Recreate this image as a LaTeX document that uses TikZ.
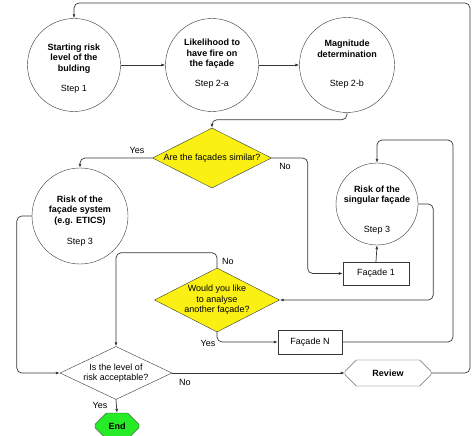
\documentclass[tikz,border=0pt]{standalone}
\usepackage{fontspec}
\setmainfont{Liberation Sans}
\usetikzlibrary{shapes,arrows,arrows.meta}
\definecolor{linegray}{RGB}{55,55,55}
\definecolor{qyellow}{RGB}{250,240,20}
\definecolor{endgreen}{RGB}{40,235,40}
\tikzset{%
	stepc/.style    = {draw=linegray, circle, inner sep=0pt}, % Step circle
	head/.style     = {align=center, font=\fontsize{9}{10.5}\selectfont\bfseries},
	steplbl/.style  = {font=\fontsize{9}{10.5}\selectfont},
	quest/.style    = {draw=linegray, diamond, aspect=2, inner sep=0pt,
		fill=qyellow, align=center, font=\fontsize{9}{10.5}\selectfont},
	block/.style    = {draw=linegray, rectangle, inner sep=0pt,
		font=\fontsize{9}{10.5}\selectfont},
	term/.style     = {draw=linegray, chamfered rectangle, chamfered rectangle xsep=8pt,
		chamfered rectangle ysep=8pt, inner sep=0pt,
		font=\fontsize{9}{10.5}\selectfont\bfseries},
	ans/.style      = {font=\fontsize{9}{10.5}\selectfont}, % Yes / No
	conn/.style     = {draw=linegray, line width=0.7pt, rounded corners=5pt,
		-{Latex[length=4pt,width=3pt]}}
}

\begin{document}
\begin{tikzpicture}[x=1pt,y=-1pt]
	\useasboundingbox (0,0) rectangle (474,436);

	% steps
	\node[stepc, minimum size=93pt] (s1) at (74,65) {};
	\node[head] (s1t) at (74,58.5) {Starting risk\\level of the\\bulding};
	\node[steplbl] (s1s) at (74,89) {Step 1};

	\node[stepc, minimum size=93pt] (s2a) at (212,65) {};
	\node[head] (s2at) at (212,54) {Likelihood to\\have fire on\\the façade};
	\node[steplbl] (s2as) at (212,84) {Step 2-a};

	\node[stepc, minimum size=95pt] (s2b) at (347,65) {};
	\node[head] (s2bt) at (347,49) {Magnitude\\determination};
	\node[steplbl] (s2bs) at (347,84) {Step 2-b};

	\node[stepc, minimum size=96pt] (sys) at (80,216) {};
	\node[head] (syst) at (80,210.5) {Risk of the\\façade system\\(e.g. ETICS)};
	\node[steplbl] (syss) at (80,242) {Step 3};

	\node[stepc, minimum size=82pt] (sng) at (377,204) {};
	\node[head] (sngt) at (377,195) {Risk of the\\singular façade};
	\node[steplbl] (sngs) at (377,230) {Step 3};

	% questions
	\node[quest, minimum width=119pt, minimum height=60pt] (q1) at (212,158) {Are the façades similar?};
	\node[quest, minimum width=125pt, minimum height=64pt] (q2) at (217,300) {Would you like\\to analyse\\another façade?};
	\node[quest, fill=white, minimum width=112pt, minimum height=53pt] (q3) at (116,373) {Is the level of\\risk acceptable?};

	\node[block, minimum width=66pt, minimum height=23pt] (f1) at (376,273.5) {Façade 1};
	\node[block, minimum width=64pt, minimum height=24pt] (fN) at (310,342) {Façade N};

	\node[term, minimum width=86pt, minimum height=26pt] (rev) at (388,373) {Review};
	\node[term, fill=endgreen, minimum width=44pt, minimum height=26pt] (end) at (117,426) {End};

	% connectors
	\draw[conn] (s1) -- (s2a);
	\draw[conn] (s2a) -- (s2b);
	\draw[conn] (s2b.south) -- ++(0,7) -| (q1.north);
	\draw[conn] (q1.west) -| (sys.north);
	\draw[conn] (q1.east) -- ++(36,0) |- (f1.west);
	\draw[conn] (f1.north) -- (sng.south);
	\draw[conn] (sng.east) -- ++(15,0) |- (q2.east);
	\draw[conn] (q2.north) -- ++(0,-15) -| (q3.north);
	\draw[conn] (q2.south) |- (fN.west);
	\draw[conn] (fN.east) -| (453,140) -| (sng.north);
	\draw[conn] (sys.west) -- ++(-15,0) |- (q3.west);
	\draw[conn] (q3.east) -- (rev.west);
	\draw[conn] (rev.east) -| (470,3) -| (s1.north);
	\draw[conn] (q3.south) -- (end.north);

	% answers
	\node[ans] (a1) at (137,150) {Yes};
	\node[ans] (a2) at (285,166) {No};
	\node[ans] (a3) at (228,261) {No};
	\node[ans] (a4) at (208,343) {Yes};
	\node[ans] (a5) at (185,382) {No};
	\node[ans] (a6) at (100,405) {Yes};
\end{tikzpicture}
\end{document}
